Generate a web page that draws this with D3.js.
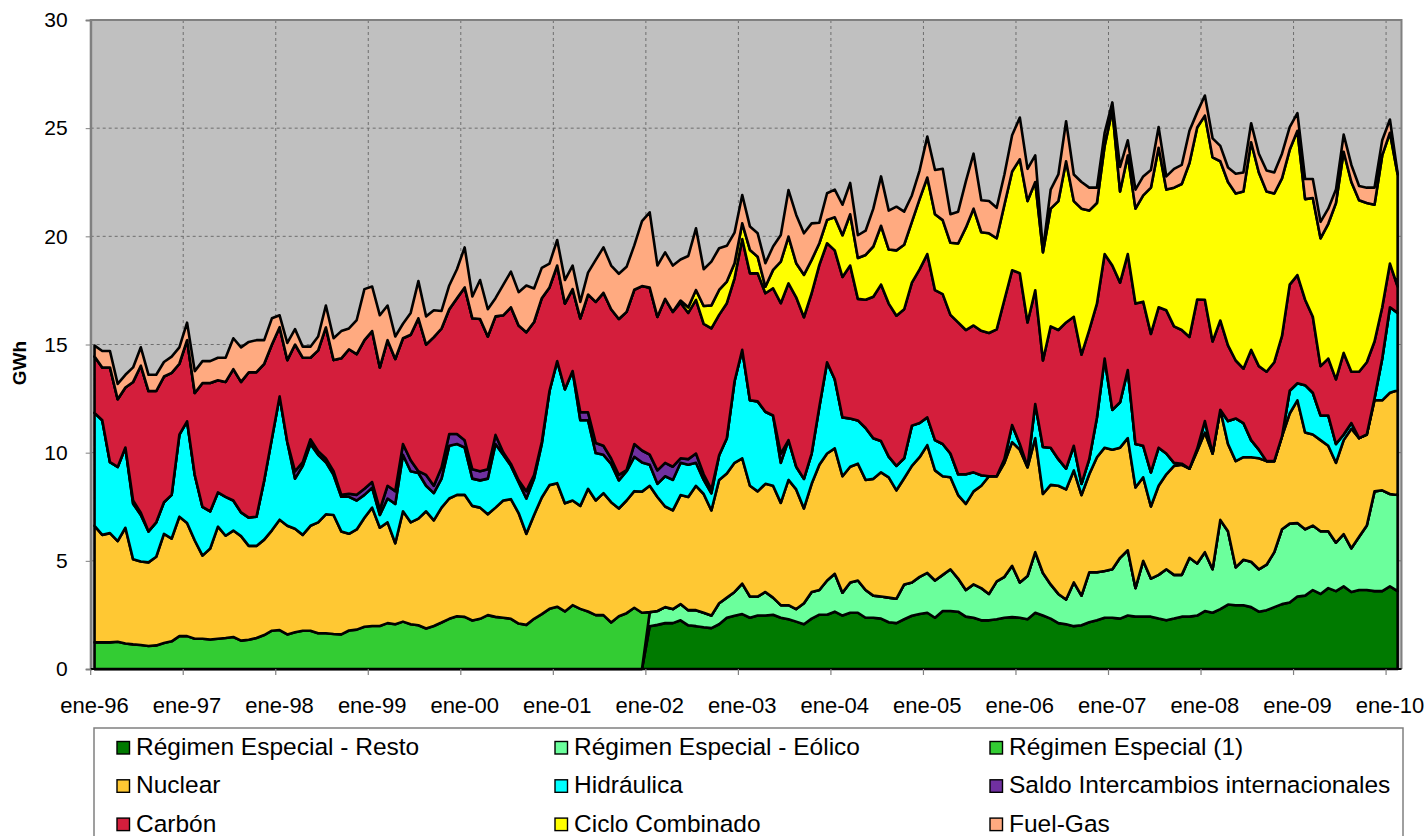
<!DOCTYPE html>
<html lang="es">
<head>
    <meta charset="UTF-8">
    <title>Generación mensual</title>
    <style>
        html, body {
            margin: 0;
            padding: 0;
            background: #fff;
        }

        #chart-wrapper {
            width: 1428px;
            height: 836px;
        }

        text {
            font-family: "Liberation Sans", Arial, sans-serif;
        }
    </style>
</head>

<body>
    <div id="chart-wrapper"></div>

    <script src="https://cdn.jsdelivr.net/npm/d3@7"></script>
    <script>
        // monthly values, GWh, ene-96 .. feb-10
        const tickLabels = ['ene-96', 'ene-97', 'ene-98', 'ene-99', 'ene-00', 'ene-01', 'ene-02',
            'ene-03', 'ene-04', 'ene-05', 'ene-06', 'ene-07', 'ene-08', 'ene-09', 'ene-10']
        const monthCount = 170

        // ene-96 .. dic-01
        const reEspecial1 = [
            1.23, 1.23, 1.23, 1.26, 1.18, 1.14, 1.11, 1.06, 1.09, 1.20, 1.28, 1.52,
            1.52, 1.40, 1.40, 1.36, 1.40, 1.43, 1.48, 1.31, 1.35, 1.43, 1.57, 1.77,
            1.80, 1.60, 1.70, 1.77, 1.77, 1.65, 1.65, 1.62, 1.60, 1.78, 1.82, 1.95,
            1.99, 1.99, 2.12, 2.07, 2.19, 2.07, 2.02, 1.87, 1.99, 2.15, 2.32, 2.44,
            2.41, 2.24, 2.32, 2.49, 2.41, 2.37, 2.32, 2.10, 2.04, 2.32, 2.54, 2.78,
            2.88, 2.66, 2.95, 2.78, 2.66, 2.49, 2.49, 2.15, 2.44, 2.58, 2.83, 2.60
        ]

        // ene-02 .. feb-10
        const reResto = [
            1.98, 2.04, 2.12, 2.12, 2.25, 2.02, 1.98, 1.93, 1.89, 2.07, 2.37, 2.46,
            2.54, 2.37, 2.47, 2.47, 2.51, 2.37, 2.30, 2.19, 2.07, 2.33, 2.51, 2.51,
            2.65, 2.47, 2.60, 2.60, 2.37, 2.37, 2.33, 2.16, 2.12, 2.30, 2.46, 2.54,
            2.60, 2.37, 2.68, 2.68, 2.65, 2.42, 2.37, 2.25, 2.25, 2.30, 2.37, 2.40,
            2.37, 2.30, 2.60, 2.47, 2.33, 2.12, 2.07, 1.98, 2.02, 2.16, 2.25, 2.37,
            2.37, 2.33, 2.47, 2.42, 2.42, 2.42, 2.33, 2.25, 2.33, 2.42, 2.42, 2.47,
            2.68, 2.60, 2.77, 2.98, 2.95, 2.95, 2.86, 2.65, 2.72, 2.86, 3.00, 3.07,
            3.35, 3.39, 3.65, 3.47, 3.74, 3.60, 3.82, 3.56, 3.65, 3.65, 3.60, 3.60,
            3.82, 3.60
        ]

        const reEolico = [
            0.65, 0.64, 0.74, 0.65, 0.75, 0.70, 0.74, 0.67, 0.58, 0.97, 0.93, 1.10,
            1.41, 0.98, 0.88, 1.09, 0.79, 0.58, 0.65, 0.58, 0.97, 1.23, 1.14, 1.58,
            1.75, 1.06, 1.40, 1.49, 1.28, 1.02, 1.02, 1.14, 1.13, 1.61, 1.54, 1.72,
            1.84, 1.72, 1.67, 1.93, 1.53, 1.23, 1.54, 1.49, 1.22, 1.75, 1.89, 2.37,
            1.63, 2.00, 2.80, 1.97, 1.58, 1.35, 1.14, 2.02, 1.37, 2.31, 2.22, 2.16,
            2.24, 2.81, 3.02, 1.32, 2.58, 1.76, 2.02, 2.36, 2.02, 1.93, 2.72, 2.41,
            2.72, 2.01, 4.12, 3.39, 1.75, 2.10, 2.10, 1.96, 2.10, 2.54, 3.46, 3.65,
            3.40, 3.07, 2.98, 2.90, 2.63, 2.24, 2.41, 2.02, 2.46, 2.98, 4.61, 4.66,
            4.27, 4.44
        ]

        const nuclear = [
            5.39, 4.97, 5.05, 4.65, 5.35, 3.93, 3.86, 3.87, 4.10, 5.05, 4.75, 5.52,
            5.23, 4.54, 3.84, 4.21, 5.18, 4.73, 4.92, 4.83, 4.34, 4.26, 4.41, 4.64,
            5.10, 5.02, 4.78, 4.43, 4.85, 5.13, 5.50, 5.50, 4.76, 4.47, 4.63, 5.04,
            5.47, 4.54, 4.66, 3.74, 5.10, 4.71, 4.93, 5.42, 4.88, 5.31, 5.56, 5.61,
            5.64, 5.30, 5.14, 4.66, 5.05, 5.42, 5.53, 5.11, 4.21, 4.80, 5.39, 5.72,
            5.71, 5.00, 4.84, 4.76, 5.67, 5.30, 5.64, 5.56, 4.98, 5.21, 5.39, 5.60,
            5.84, 5.27, 4.65, 4.56, 5.04, 5.23, 5.75, 5.49, 4.86, 5.70, 5.74, 5.97,
            5.79, 5.12, 4.86, 5.00, 5.17, 4.73, 5.79, 5.53, 4.38, 5.00, 5.79, 5.87,
            5.80, 5.38, 5.35, 5.40, 5.09, 5.40, 5.74, 5.56, 5.01, 4.91, 5.39, 5.53,
            5.91, 5.09, 4.56, 4.25, 3.86, 3.98, 4.30, 4.73, 5.44, 4.86, 5.27, 5.72,
            6.14, 5.02, 5.27, 3.65, 4.60, 5.00, 5.09, 5.18, 4.65, 4.53, 5.32, 5.70,
            5.53, 5.09, 5.18, 4.65, 3.86, 3.33, 4.12, 4.39, 5.04, 5.09, 4.12, 5.20,
            5.53, 5.35, 5.09, 4.03, 4.91, 4.74, 4.83, 5.13, 4.79, 4.21, 4.29, 5.09,
            5.67, 4.47, 4.21, 4.21, 3.95, 3.69, 4.35, 5.53, 4.56, 4.21, 4.21, 4.16,
            4.68, 4.85
        ]

        const hidraulica = [
            5.22, 5.30, 3.28, 3.43, 3.71, 2.57, 2.15, 1.43, 1.59, 1.46, 2.02, 3.79,
            4.70, 3.03, 2.25, 1.72, 1.58, 1.80, 1.39, 1.10, 1.31, 1.35, 2.74, 4.25,
            5.70, 3.87, 2.32, 3.19, 3.78, 3.12, 2.41, 1.85, 1.60, 1.71, 1.34, 1.06,
            0.92, 0.59, 1.10, 1.82, 2.61, 2.36, 2.11, 1.18, 1.26, 1.34, 2.44, 2.35,
            2.19, 1.26, 1.26, 1.65, 2.94, 2.11, 1.54, 1.43, 1.63, 1.68, 2.47, 4.35,
            5.64, 5.27, 5.98, 3.96, 3.17, 2.19, 1.77, 1.77, 1.30, 1.35, 1.59, 1.35,
            0.97, 0.61, 1.40, 1.41, 1.49, 1.49, 1.06, 0.65, 0.79, 1.14, 1.63, 3.77,
            5.01, 3.95, 4.16, 3.33, 3.25, 1.85, 1.84, 1.05, 1.37, 1.40, 2.68, 4.22,
            3.19, 2.72, 2.23, 2.00, 2.40, 1.88, 1.45, 0.96, 1.13, 0.92, 1.86, 1.58,
            1.28, 1.40, 1.49, 1.10, 0.96, 1.37, 0.88, 0.49, 0.00, 0.00, 0.17, 0.79,
            0.26, 0.03, 1.58, 2.17, 1.72, 1.23, 0.96, 1.14, 0.52, 0.70, 1.84, 4.12,
            1.84, 2.10, 3.15, 2.01, 1.46, 1.58, 1.76, 0.96, 0.14, 0.05, 0.00, 0.10,
            0.53, 0.00, 0.00, 1.06, 1.97, 1.58, 0.79, 0.40, 0.00, 0.00, 0.00, 1.05,
            0.79, 2.19, 1.93, 1.14, 1.40, 0.87, 0.26, 0.26, 0.00, 0.00, 0.09, 1.93,
            3.95, 3.57
        ]

        const saldo = [
            0, 0, 0, 0, 0, 0.15, 0.10, 0, 0, 0, 0, 0,
            0, 0, 0, 0, 0, 0, 0, 0, 0, 0, 0, 0,
            0, 0, 0.34, 0.17, 0.22, 0.17, 0.17, 0.17, 0.09, 0.14, 0.26, 0.28,
            0.26, 0.25, 0.59, 0.59, 0.50, 0.51, 0.08, 0.50, 0.34, 0.51, 0.54, 0.46,
            0.33, 0.43, 0.42, 0.43, 0.42, 0.12, 0.09, 0.08, 0.34, 0.17, 0.09, 0,
            0, 0, 0, 0.37, 0.37, 0.47, 0.42, 0.25, 0.25, 0.05, 0.59, 0.55,
            0.47, 0.62, 0.62, 0.61, 0.21, 0.26, 0.43, 0.26, 0.18, 0, 0, 0,
            0, 0, 0, 0, 0, 0.43, 0, 0, 0, 0, 0, 0,
            0, 0, 0, 0, 0, 0, 0, 0, 0, 0, 0, 0,
            0, 0, 0, 0, 0, 0, 0, 0, 0, 0, 0, 0,
            0, 0, 0, 0, 0, 0, 0, 0, 0, 0, 0, 0,
            0, 0, 0, 0, 0, 0, 0, 0, 0, 0, 0, 0,
            0, 0, 0, 0, 0, 0, 0, 0, 0, 0, 0, 0,
            0, 0, 0, 0, 0, 0, 0, 0, 0, 0, 0, 0,
            0, 0
        ]

        const carbon = [
            2.60, 2.44, 4.38, 3.13, 2.77, 5.48, 6.80, 6.49, 6.07, 5.81, 5.64, 3.28,
            3.75, 3.79, 5.73, 5.93, 5.19, 5.31, 6.07, 6.03, 6.72, 6.68, 5.39, 4.34,
            3.20, 3.79, 5.86, 4.83, 3.77, 4.66, 6.06, 5.14, 6.31, 6.68, 6.51, 6.87,
            6.98, 6.57, 6.73, 6.11, 4.89, 5.80, 7.07, 6.03, 6.87, 6.43, 5.77, 6.28,
            7.07, 6.98, 7.04, 6.14, 5.48, 6.33, 7.24, 7.16, 7.35, 7.07, 6.65, 4.79,
            4.42, 3.96, 3.79, 4.34, 5.44, 6.52, 7.07, 6.90, 7.21, 7.32, 7.13, 7.60,
            7.72, 7.10, 7.58, 7.16, 7.19, 6.76, 7.10, 6.95, 7.45, 6.49, 6.24, 4.76,
            5.12, 5.87, 5.92, 5.48, 5.88, 6.95, 7.25, 7.83, 7.47, 7.41, 6.56, 5.50,
            5.96, 6.49, 7.07, 5.62, 5.93, 6.54, 7.23, 7.07, 6.94, 6.89, 6.61, 7.10,
            7.55, 6.93, 6.93, 6.41, 7.02, 6.67, 6.79, 6.67, 6.62, 6.79, 7.37, 7.15,
            7.90, 6.67, 5.26, 4.00, 5.61, 5.97, 6.76, 5.96, 5.97, 5.97, 5.26, 4.83,
            6.67, 5.53, 5.36, 6.49, 6.66, 6.40, 6.49, 6.62, 6.31, 6.18, 6.09, 6.90,
            5.61, 5.18, 4.13, 3.50, 2.68, 2.51, 4.17, 3.86, 4.13, 4.57, 4.65, 4.91,
            5.00, 3.95, 3.51, 2.28, 2.63, 2.99, 3.77, 2.37, 3.07, 3.34, 2.63, 2.37,
            2.02, 1.22
        ]

        const cicloCombinado = [
            0, 0, 0, 0, 0, 0, 0, 0, 0, 0, 0, 0,
            0, 0, 0, 0, 0, 0, 0, 0, 0, 0, 0, 0,
            0, 0, 0, 0, 0, 0, 0, 0, 0, 0, 0, 0,
            0, 0, 0, 0, 0, 0, 0, 0, 0, 0, 0, 0,
            0, 0, 0, 0, 0, 0, 0, 0, 0, 0, 0, 0,
            0, 0, 0, 0, 0, 0, 0, 0, 0, 0, 0, 0,
            0, 0, 0, 0, 0.10, 0.26, 0.46, 0.83, 1.06, 1.15, 1.00, 0.70,
            0.73, 1.08, 0.77, 0.30, 0.85, 1.92, 2.16, 1.58, 1.96, 1.54, 1.00, 1.08,
            1.53, 1.93, 2.37, 1.89, 2.07, 2.32, 2.72, 2.50, 3.02, 2.98, 2.81, 3.25,
            3.54, 3.51, 3.42, 3.33, 3.65, 4.73, 5.40, 4.56, 4.61, 4.21, 4.39, 4.57,
            5.26, 5.61, 5.00, 5.00, 5.44, 5.96, 7.45, 5.35, 6.75, 5.52, 4.65, 5.00,
            7.19, 4.21, 4.56, 4.39, 4.91, 6.76, 7.37, 5.58, 6.41, 6.75, 8.04, 7.95,
            8.51, 8.51, 7.36, 7.55, 7.72, 8.19, 9.60, 8.95, 8.33, 7.80, 7.28, 6.23,
            6.67, 4.65, 5.49, 5.91, 6.23, 8.15, 9.30, 8.77, 7.93, 7.36, 6.32, 7.02,
            6.05, 5.18
        ]

        const fuelGas = [
            0.51, 0.76, 0.76, 0.71, 0.59, 0.67, 0.85, 0.75, 0.75, 0.67, 0.75, 0.76,
            0.81, 1.01, 1.01, 1.01, 1.04, 1.12, 1.43, 1.60, 1.40, 1.48, 1.09, 1.21,
            0.55, 0.79, 0.71, 0.51, 0.51, 0.64, 1.01, 1.01, 1.26, 0.96, 1.57, 2.36,
            2.06, 2.41, 1.60, 1.04, 0.67, 1.01, 1.72, 1.30, 1.24, 0.81, 1.10, 1.34,
            1.85, 1.01, 1.80, 1.26, 0.84, 1.41, 1.65, 1.54, 2.16, 1.55, 1.40, 1.10,
            1.18, 1.09, 1.09, 0.76, 1.01, 1.94, 2.10, 2.02, 2.09, 2.08, 2.05, 3.00,
            3.48, 2.37, 2.15, 2.14, 1.90, 2.37, 2.85, 1.70, 2.02, 1.93, 1.65, 1.41,
            1.31, 1.08, 1.08, 1.09, 1.08, 1.23, 2.15, 2.23, 1.92, 1.69, 0.95, 1.23,
            1.28, 1.41, 1.45, 1.05, 1.12, 1.75, 2.28, 1.80, 2.02, 1.53, 1.22, 1.32,
            1.89, 2.05, 2.37, 1.32, 1.47, 2.14, 2.54, 1.48, 1.49, 1.41, 1.40, 1.67,
            1.93, 1.49, 1.23, 0.09, 0.88, 1.23, 1.85, 1.23, 1.23, 1.06, 0.71, 0.61,
            0.35, 1.14, 0.70, 0.88, 0.88, 0.82, 0.96, 0.61, 0.87, 0.88, 1.49, 0.70,
            0.93, 0.88, 0.71, 0.67, 0.91, 0.88, 0.88, 0.87, 0.97, 0.97, 1.14, 1.05,
            0.82, 0.93, 0.88, 0.76, 0.70, 0.62, 0.79, 0.79, 0.66, 0.71, 0.79, 0.70,
            0.61, 0.05
        ]

        // stacking order = legend order (bottom first)
        const seriesList = [
            { key: 'resto', name: 'Régimen Especial - Resto', color: '#007A00', values: reResto, start: 72 },
            { key: 'eolico', name: 'Régimen Especial - Eólico', color: '#6BFF9C', values: reEolico, start: 72 },
            { key: 're1', name: 'Régimen Especial (1)', color: '#33CC33', values: reEspecial1, start: 0 },
            { key: 'nuclear', name: 'Nuclear', color: '#FFC833', values: nuclear, start: 0 },
            { key: 'hidraulica', name: 'Hidráulica', color: '#00FFFF', values: hidraulica, start: 0 },
            { key: 'saldo', name: 'Saldo Intercambios internacionales', color: '#7030A0', values: saldo, start: 0 },
            { key: 'carbon', name: 'Carbón', color: '#D41E3C', values: carbon, start: 0 },
            { key: 'ciclo', name: 'Ciclo Combinado', color: '#FFFF00', values: cicloCombinado, start: 0 },
            { key: 'fuel', name: 'Fuel-Gas', color: '#FFAA80', values: fuelGas, start: 0 }
        ]

        const width = 1428
        const height = 836
        const plot = { left: 90.7, right: 1401.5, top: 20, bottom: 669 }

        const svg = d3.select('#chart-wrapper')
            .append('svg')
            .attr('width', width)
            .attr('height', height)

        // table for d3.stack
        const rows = d3.range(monthCount).map(i => {
            const row = { i }
            seriesList.forEach(s => {
                const v = s.values[i - s.start]
                row[s.key] = v === undefined ? 0 : v
            })
            return row
        })

        const stacked = d3.stack()
            .keys(seriesList.map(s => s.key))(rows)

        const xScale = d3.scaleLinear()
            .domain([-0.5, monthCount - 0.5])
            .range([plot.left, plot.right])

        const yScale = d3.scaleLinear()
            .domain([0, 30])
            .range([plot.bottom, plot.top])

        drawBackground()
        drawAreas()
        drawAxes()
        drawLegend()

        function drawBackground() {
            svg.append('rect')
                .attr('x', plot.left)
                .attr('y', plot.top)
                .attr('width', plot.right - plot.left)
                .attr('height', plot.bottom - plot.top)
                .attr('fill', '#C0C0C0')

            const grid = svg.append('g').attr('class', 'grid')
            grid.selectAll('line.h')
                .data([5, 10, 15, 20, 25])
                .join('line')
                .attr('class', 'h')
                .attr('x1', plot.left)
                .attr('x2', plot.right)
                .attr('y1', d => yScale(d))
                .attr('y2', d => yScale(d))
                .attr('stroke', '#6E6E6E')
                .attr('stroke-width', 1)
                .attr('stroke-dasharray', '3,3')

            grid.selectAll('line.v')
                .data(d3.range(1, tickLabels.length))
                .join('line')
                .attr('class', 'v')
                .attr('x1', k => xScale(k * 12 - 0.5))
                .attr('x2', k => xScale(k * 12 - 0.5))
                .attr('y1', plot.top)
                .attr('y2', plot.bottom)
                .attr('stroke', '#6E6E6E')
                .attr('stroke-width', 1)
                .attr('stroke-dasharray', '3,3')
        }

        function drawAreas() {
            const area = d3.area()
                .x(d => xScale(d.data.i))
                .y0(d => yScale(d[0]))
                .y1(d => yScale(d[1]))

            svg.append('g')
                .attr('class', 'area-wrapper')
                .selectAll('path')
                .data(stacked)
                .join('path')
                .attr('fill', (d, k) => seriesList[k].color)
                .attr('stroke', '#000')
                .attr('stroke-width', 2.6)
                .attr('stroke-linejoin', 'round')
                .attr('d', area)
        }

        function drawAxes() {
            // frame (top / right)
            svg.append('path')
                .attr('d', `M${plot.left},${plot.bottom}V${plot.top}H${plot.right}V${plot.bottom}`)
                .attr('fill', 'none')
                .attr('stroke', '#808080')
                .attr('stroke-width', 2)

            const yAxis = d3.axisLeft(yScale)
                .tickValues([0, 5, 10, 15, 20, 25, 30])
                .tickSize(5)
                .tickPadding(18)
            const gy = svg.append('g')
                .attr('transform', `translate(${plot.left},0)`)
                .call(yAxis)
            gy.select('.domain').attr('stroke', '#808080').attr('stroke-width', 2)
            gy.selectAll('.tick line').attr('stroke', '#808080')
            gy.selectAll('.tick text')
                .attr('font-size', '21px')
                .attr('fill', '#000')
                .style('font-family', '"Liberation Sans", Arial, sans-serif')

            // x: tick marks at january boundaries, labels under january
            const gx = svg.append('g').attr('class', 'x-axis')
            gx.append('line')
                .attr('x1', plot.left)
                .attr('x2', plot.right)
                .attr('y1', plot.bottom)
                .attr('y2', plot.bottom)
                .attr('stroke', '#000')
                .attr('stroke-width', 2)
            gx.selectAll('line.tick')
                .data(d3.range(tickLabels.length))
                .join('line')
                .attr('class', 'tick')
                .attr('x1', k => xScale(k * 12 - 0.5))
                .attr('x2', k => xScale(k * 12 - 0.5))
                .attr('y1', plot.bottom)
                .attr('y2', plot.bottom + 6)
                .attr('stroke', '#808080')
                .attr('stroke-width', 1.2)
            gx.selectAll('text')
                .data(tickLabels)
                .join('text')
                .attr('x', (d, k) => xScale(k * 12))
                .attr('y', 713)
                .attr('text-anchor', 'middle')
                .attr('font-size', '22px')
                .text(d => d)

            svg.append('text')
                .attr('transform', 'translate(26,363) rotate(-90)')
                .attr('text-anchor', 'middle')
                .attr('font-size', '19px')
                .attr('font-weight', 'bold')
                .text('GWh')
        }

        function drawLegend() {
            const legend = svg.append('g').attr('class', 'legend')
            legend.append('rect')
                .attr('x', 94)
                .attr('y', 728)
                .attr('width', 1403 - 94)
                .attr('height', 130)
                .attr('fill', '#fff')
                .attr('stroke', '#808080')
                .attr('stroke-width', 1.5)

            const colX = [117, 555, 990]
            const rowY = [755, 793.3, 831.6]

            const item = legend.selectAll('g.item')
                .data(seriesList)
                .join('g')
                .attr('class', 'item')
                .attr('transform', (d, k) => `translate(${colX[k % 3]},${rowY[Math.floor(k / 3)]})`)

            item.append('rect')
                .attr('x', 0)
                .attr('y', -13.5)
                .attr('width', 12.5)
                .attr('height', 12.5)
                .attr('fill', d => d.color)
                .attr('stroke', '#000')
                .attr('stroke-width', 1.4)

            item.append('text')
                .attr('x', 19)
                .attr('y', 0)
                .attr('font-size', '24.5px')
                .text(d => d.name)
        }
    </script>
</body>
</html>
